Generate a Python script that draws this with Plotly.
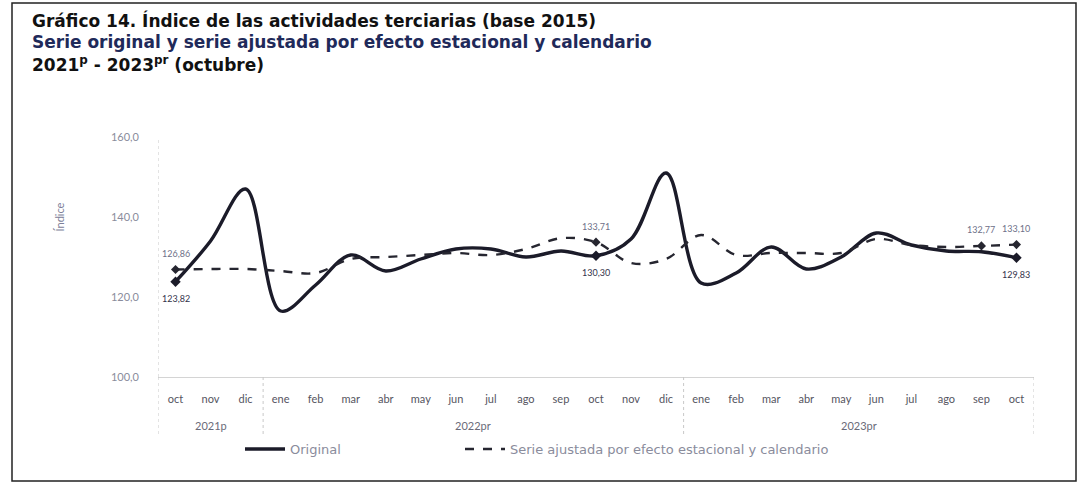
import plotly.graph_objects as go

MESES = ["oct", "nov", "dic", "ene", "feb", "mar", "abr", "may", "jun", "jul", "ago", "sep",
         "oct", "nov", "dic", "ene", "feb", "mar", "abr", "may", "jun", "jul", "ago", "sep", "oct"]
ANIOS = ["2021p", "2022pr", "2023pr"]
ANIO_CENTRO = [1, 8.5, 19.5]
ANIO_CORTES = [2.5, 14.5]

ORIGINAL = [123.82, 134.0, 147.0, 116.5, 123.0, 130.5, 126.5, 129.5, 132.0, 132.0, 130.0, 131.5,
            130.30, 134.5, 151.0, 123.5, 126.0, 132.5, 127.0, 130.0, 136.0, 133.0, 131.5, 131.3, 129.83]
AJUSTADA = [126.86, 127.0, 127.0, 126.5, 126.0, 129.5, 130.0, 130.5, 131.0, 130.5, 132.0, 134.7,
            133.71, 128.5, 129.5, 135.5, 130.5, 131.0, 131.0, 131.0, 134.5, 133.0, 132.5, 132.77, 133.10]

ETIQ_ORIG = [0, 12, 24]
ETIQ_AJUS = [0, 12, 23, 24]

x = list(range(len(MESES)))
FONT = "Lato"
GRIS = "#8a8c9c"


def fmt(v):
    return f"{v:.2f}".replace(".", ",")


def px_x(px):
    return (px - 158) / 876


def px_y(py):
    return (377 - py) / 240


fig = go.Figure()
fig.add_trace(go.Scatter(x=x, y=ORIGINAL, mode="lines", name="Original", legend="legend",
                         line=dict(color="#1b1b29", width=3.4, shape="spline", smoothing=1)))
fig.add_trace(go.Scatter(x=x, y=AJUSTADA, mode="lines", legend="legend2",
                         name="Serie ajustada por efecto estacional y calendario",
                         line=dict(color="#262630", width=2.4, dash="dash", shape="spline", smoothing=1)))
fig.add_trace(go.Scatter(x=ETIQ_ORIG, y=[ORIGINAL[i] for i in ETIQ_ORIG], mode="markers",
                         marker=dict(symbol="diamond", size=8, color="#1b1b29"), showlegend=False))
fig.add_trace(go.Scatter(x=ETIQ_AJUS, y=[AJUSTADA[i] for i in ETIQ_AJUS], mode="markers",
                         marker=dict(symbol="diamond", size=7, color="#262630"), showlegend=False))

for i in ETIQ_ORIG:
    fig.add_annotation(x=i, y=ORIGINAL[i], text=fmt(ORIGINAL[i]), showarrow=False, yshift=-17,
                       font=dict(family=FONT, size=9, color="#33334a"))
for i in ETIQ_AJUS:
    fig.add_annotation(x=i, y=AJUSTADA[i], text=fmt(AJUSTADA[i]), showarrow=False, yshift=16,
                       font=dict(family=FONT, size=9, color="#6e7088"))

for txt, c in zip(ANIOS, ANIO_CENTRO):
    fig.add_annotation(x=c, y=px_y(425), yref="paper", yanchor="middle", text=txt, showarrow=False,
                       font=dict(family=FONT, size=11, color="#6a6a78"))
for c in ANIO_CORTES + [-0.5, 24.5]:
    fig.add_shape(type="line", x0=c, x1=c, y0=0, y1=px_y(436), yref="paper",
                  line=dict(color="#c8c8c8", width=1, dash="dot"))

fig.add_shape(type="line", x0=-0.5, x1=-0.5, y0=0, y1=1, yref="paper",
              line=dict(color="#c8c8c8", width=1, dash="dot"))

# titles
titulos = [
    ("Gráfico 14. Índice de las actividades terciarias (base 2015)", "#111111", 21),
    ("Serie original y serie ajustada por efecto estacional y calendario", "#1f2a5a", 42),
    ("2021<sup>p</sup> - 2023<sup>pr</sup> (octubre)", "#111111", 64),
]
for t, col, py in titulos:
    fig.add_annotation(x=px_x(30), y=px_y(py), xref="paper", yref="paper", text=f"<b>{t}</b>",
                       showarrow=False, xanchor="left", yanchor="middle",
                       font=dict(family="DejaVu Sans", size=17, color=col))

fig.add_annotation(x=px_x(50), y=px_y(217), xref="paper", yref="paper", text="Índice",
                   showarrow=False, textangle=-90, font=dict(family=FONT, size=11, color="#7d8099"))

# frame
fig.add_shape(type="rect", xref="paper", yref="paper", x0=px_x(12), x1=px_x(1076),
              y0=px_y(481), y1=px_y(3), line=dict(color="#222222", width=1.5))

leg = dict(orientation="h", y=px_y(449), xanchor="left", yanchor="middle", itemwidth=40,
           font=dict(family="DejaVu Sans", size=13, color=GRIS))

fig.update_layout(
    width=1077, height=482,
    margin=dict(l=158, r=43, t=137, b=105),
    paper_bgcolor="white", plot_bgcolor="white",
    separators=",.",
    showlegend=True,
    legend=dict(leg, x=px_x(240)),
    legend2=dict(leg, x=px_x(460)),
    xaxis=dict(range=[-0.5, 24.5], tickvals=x, ticktext=MESES, showgrid=False, zeroline=False,
               showline=True, linecolor="#d4d4d4", linewidth=1, ticks="", ticklabelstandoff=12,
               tickfont=dict(family=FONT, size=11, color="#55555f")),
    yaxis=dict(range=[100, 160], tickvals=[100, 120, 140, 160], tickformat=".1f",
               showgrid=False, zeroline=False, showline=False, ticks="", ticklabelstandoff=18,
               tickfont=dict(family=FONT, size=11, color=GRIS)),
)

fig.write_html("out.html", config={"displayModeBar": False},
               post_script="document.body.style.margin = '0';")
